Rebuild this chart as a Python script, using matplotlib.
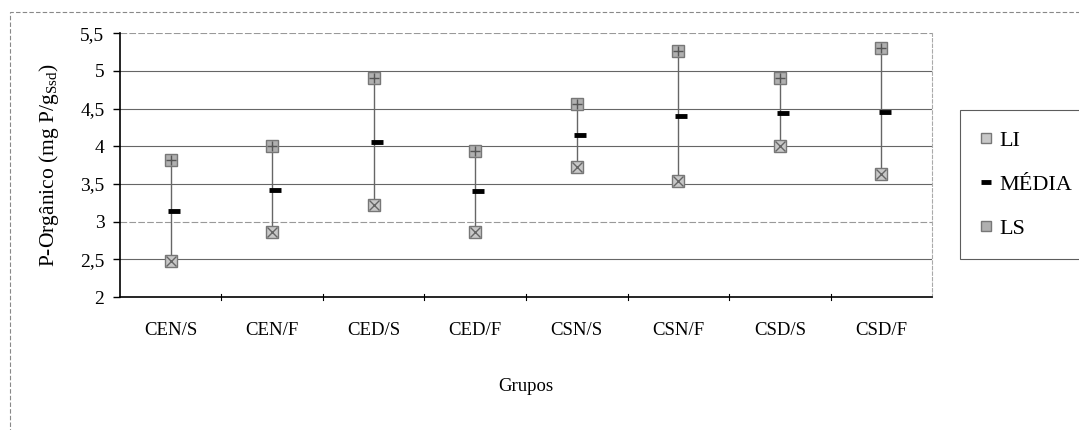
import numpy as np
import matplotlib.pyplot as plt
from matplotlib.lines import Line2D
from matplotlib.patches import Rectangle

plt.rcParams['font.family'] = ['Liberation Serif', 'DejaVu Serif']

# data
grupos = ["CEN/S", "CEN/F", "CED/S", "CED/F", "CSN/S", "CSN/F", "CSD/S", "CSD/F"]
li = [2.48, 2.86, 3.22, 2.86, 3.72, 3.54, 4.00, 3.63]
media = [3.14, 3.42, 4.05, 3.41, 4.15, 4.40, 4.44, 4.46]
ls = [3.82, 4.00, 4.90, 3.94, 4.56, 5.26, 4.90, 5.30]

fig = plt.figure(figsize=(10.79, 4.30), dpi=100)
ax = fig.add_axes([0.111, 0.309, 0.753, 0.614])

x = np.arange(len(grupos))

# gridlines
for g in np.arange(2.5, 5.51, 0.5):
    ax.axhline(g, color="#555555", lw=0.8, ls=(0, (6, 2)) if g in (3.0, 5.5) else "-",
               alpha=0.6 if g in (3.0, 5.5) else 0.9, zorder=0)

# high-low lines
ax.vlines(x, li, ls, color="#666666", lw=1.0, zorder=1)

ax.plot(x, li, ls="none", marker="s", ms=8, mfc="#c8c8c8", mec="#777777", mew=1.0, zorder=3)
ax.plot(x, li, ls="none", marker="x", ms=7, mec="#666666", mew=1.0, zorder=4)
ax.plot(x, ls, ls="none", marker="s", ms=8, mfc="#b0b0b0", mec="#777777", mew=1.0, zorder=3)
ax.plot(x, ls, ls="none", marker="+", ms=7, mec="#555555", mew=1.0, zorder=4)
ax.plot(x + 0.03, media, ls="none", marker="_", ms=8, mec="black", mew=3.5, zorder=5)

ax.set_xlim(-0.5, len(grupos) - 0.5)
ax.set_ylim(2, 5.5)
ax.set_yticks(np.arange(2, 5.51, 0.5))
ax.set_yticklabels([f"{v:g}".replace(".", ",") for v in np.arange(2, 5.51, 0.5)], fontsize=14)
ax.set_xticks(x)
ax.set_xticklabels(grupos, fontsize=13.5)
ax.tick_params(axis="x", length=0, pad=18)
ax.tick_params(axis="y", length=5, direction="out", width=1, pad=6)
# category boundary ticks
for b in np.arange(0.5, len(grupos) - 0.5, 1):
    ax.plot([b, b], [2 - 0.04, 2 + 0.04], color="black", lw=0.8, clip_on=False)

ax.spines["top"].set_visible(False)
ax.spines["right"].set_color("#aaaaaa")
ax.spines["right"].set_linestyle((0, (3, 2)))
ax.spines["left"].set_linewidth(1.2)
ax.spines["bottom"].set_linewidth(1.2)

ax.set_ylabel("P-Orgânico (mg P/g$_\\mathregular{Ssd}$)", fontsize=15.5, labelpad=14)
ax.set_xlabel("Grupos", fontsize=13.5, labelpad=28)

handles = [
    Line2D([], [], ls="none", marker="s", ms=7, mfc="#c8c8c8", mec="#777777"),
    Line2D([], [], ls="none", marker="_", ms=7, mec="black", mew=3.5),
    Line2D([], [], ls="none", marker="s", ms=7, mfc="#b0b0b0", mec="#777777"),
]
leg = fig.legend(handles, ["LI", "MÉDIA", "LS"], loc="center left",
                 bbox_to_anchor=(0.879, 0.571), fontsize=16, frameon=True,
                 fancybox=False, edgecolor="#333333", handlelength=0.6,
                 handletextpad=0.3, labelspacing=1.05, borderpad=0.9)
leg.get_frame().set_linewidth(0.8)

# outer chart border
fig.patches.append(Rectangle((0.009, -0.01), 1.0, 0.982, transform=fig.transFigure,
                             fill=False, ec="#888888", lw=0.8, ls=(0, (4, 2))))

fig.savefig("out.png", dpi=100)
